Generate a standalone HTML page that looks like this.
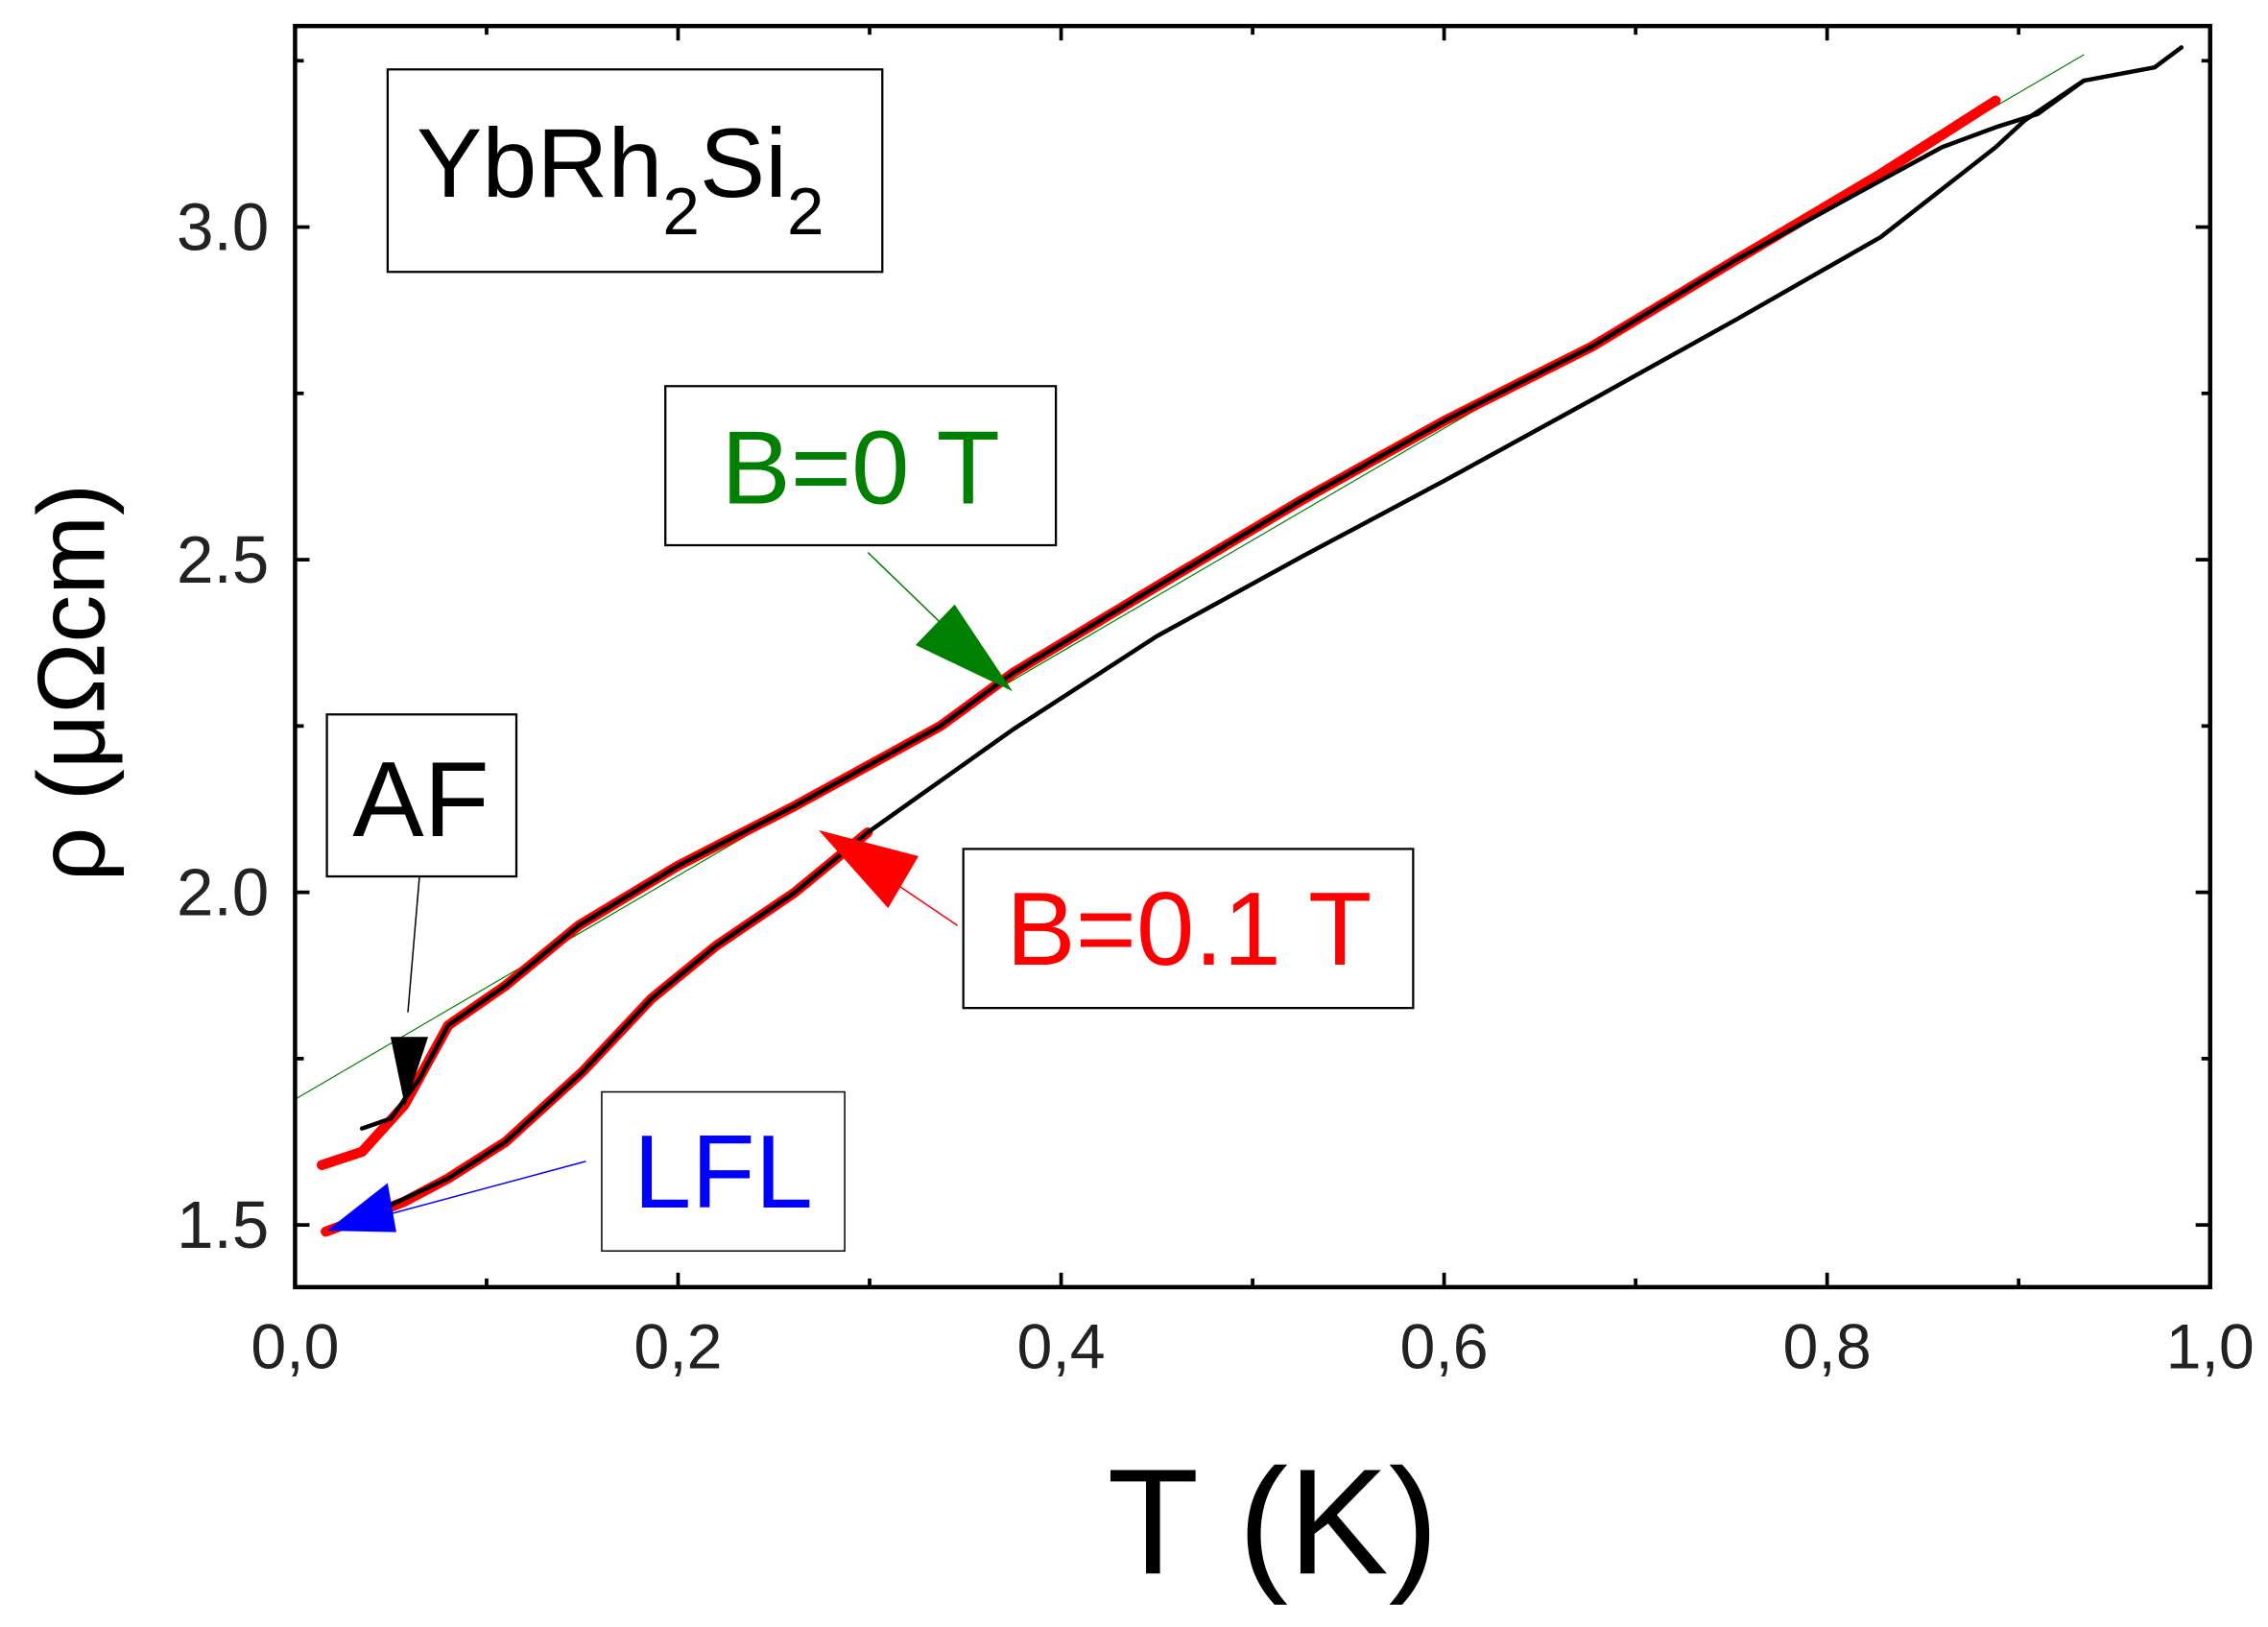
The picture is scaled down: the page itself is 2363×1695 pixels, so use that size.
<!DOCTYPE html>
<html><head><meta charset="utf-8"><style>
html,body{margin:0;padding:0;background:#fff;}
svg{display:block;}
text{font-family:"Liberation Sans",sans-serif;}
</style></head><body>
<svg id="chart" width="2363" height="1695" viewBox="0 0 1568 1125" preserveAspectRatio="none" xmlns="http://www.w3.org/2000/svg">
<rect width="1568" height="1125" fill="#fff"/>
<g id="marks"></g>
<g id="annot"></g>
<g id="axes"></g>
</svg>
<script>
const xTicks=[0,0.2,0.4,0.6,0.8,1.0];
const xTickLabels=["0,0","0,2","0,4","0,6","0,8","1,0"];
const yTicks=[1.5,2.0,2.5,3.0];
const yTickLabels=["1.5","2.0","2.5","3.0"];
const upperRedT=[0.014,0.035,0.057,0.08,0.11,0.148,0.2,0.261,0.337,0.375,0.45,0.526,0.601,0.677,0.752,0.828,0.888];
const upperRedR=[1.59,1.61,1.68,1.80,1.86,1.95,2.04,2.13,2.25,2.33,2.46,2.59,2.71,2.82,2.95,3.08,3.19];
const upperBlackT=[0.035,0.05,0.065,0.08,0.11,0.148,0.2,0.261,0.337,0.375,0.45,0.526,0.601,0.677,0.752,0.828,0.86,0.888,0.91,0.934,0.971,0.985];
const upperBlackR=[1.645,1.66,1.72,1.80,1.86,1.95,2.04,2.13,2.25,2.33,2.46,2.59,2.71,2.82,2.95,3.07,3.12,3.15,3.17,3.22,3.24,3.27];
const lowerRedT=[0.016,0.035,0.057,0.08,0.11,0.15,0.186,0.22,0.261,0.299];
const lowerRedR=[1.49,1.51,1.535,1.57,1.625,1.73,1.84,1.92,2.0,2.09];
const lowerBlackT=[0.05,0.08,0.11,0.15,0.186,0.22,0.261,0.299,0.375,0.45,0.526,0.601,0.677,0.752,0.828,0.888,0.903,0.934];
const lowerBlackR=[1.53,1.57,1.625,1.73,1.84,1.92,2.0,2.09,2.245,2.385,2.505,2.62,2.74,2.86,2.985,3.12,3.16,3.22];
const fitT=[0,0.934];
const fitR=[1.689,3.259];

const X0=204,X1=1528,Y0=18,Y1=890;
const sx=t=>X0+(X1-X0)*t;
const sy=r=>847-(r-1.5)*460;
const NS="http://www.w3.org/2000/svg";
function mk(tag,parent,attrs){const e=document.createElementNS(NS,tag);for(const k in attrs)e.setAttribute(k,attrs[k]);parent.appendChild(e);return e;}
const marks=document.getElementById('marks'),axes=document.getElementById('axes'),annot=document.getElementById('annot');
function line(T,R,color,w,name){
  const d=T.map((t,i)=>(i?'L':'M')+sx(t).toFixed(1)+','+sy(R[i]).toFixed(1)).join(' ');
  const p=mk('path',marks,{d:d,fill:'none',stroke:color,'stroke-width':w,'stroke-linejoin':'round','stroke-linecap':'round'});
  
  
}
line(fitT,fitR,'#008000',0.8,'fit-line');
line(upperRedT,upperRedR,'#ff0000',7,'upper-red-curve');
line(lowerRedT,lowerRedR,'#ff0000',7,'lower-red-curve');
line(upperBlackT,upperBlackR,'#000',3,'upper-black-curve');
line(lowerBlackT,lowerBlackR,'#000',3,'lower-black-curve');

const fr=mk('rect',axes,{x:X0,y:Y0,width:X1-X0,height:Y1-Y0,fill:'none',stroke:'#000','stroke-width':3});


for(let i=0;i<=10;i++){const t=i/10,len=(i%2==0)?10:6,x=sx(t);
  mk('line',axes,{x1:x,y1:Y1,x2:x,y2:Y1-len,stroke:'#000','stroke-width':2.5});
  mk('line',axes,{x1:x,y1:Y0,x2:x,y2:Y0+len,stroke:'#000','stroke-width':2.5});}
for(let r=1.5;r<=3.25;r+=0.25){const y=sy(r),len=(Math.abs(r*2-Math.round(r*2))<0.01)?10:6;
  mk('line',axes,{x1:X0,y1:y,x2:X0+len,y2:y,stroke:'#000','stroke-width':2.5});
  mk('line',axes,{x1:X1,y1:y,x2:X1-len,y2:y,stroke:'#000','stroke-width':2.5});}
xTicks.forEach((t,i)=>{const e=mk('text',axes,{x:sx(t),y:946,'text-anchor':'middle','font-size':44,fill:'#222'});e.textContent=xTickLabels[i];
  
  });
yTicks.forEach((r,i)=>{const e=mk('text',axes,{x:186,y:sy(r)+16,'text-anchor':'end','font-size':46,fill:'#222'});e.textContent=yTickLabels[i];
  
  });
</script>
<script>
const a=document.getElementById('annot');
a.innerHTML=`
<text x="880" y="1088" text-anchor="middle" font-size="104">T (K)</text>
<text transform="translate(72,472) rotate(-90)" text-anchor="middle" font-size="66">ρ (μΩcm)</text>
<g><rect x="268" y="48" width="342" height="140" fill="#fff" stroke="#000" stroke-width="1.5"/>
<text x="288" y="136" font-size="68">YbRh<tspan font-size="46" dy="26">2</tspan><tspan dy="-26">Si</tspan><tspan font-size="46" dy="26">2</tspan></text></g>
<g><rect x="460" y="267" width="270" height="110" fill="#fff" stroke="#000" stroke-width="1.5"/>
<text x="595" y="348" text-anchor="middle" font-size="72" fill="#008000">B=0 T</text></g>
<line x1="600" y1="382" x2="660" y2="440" stroke="#008000" stroke-width="1"/>
<polygon points="700,478 633,446 660,418" fill="#008000"/>
<g><rect x="666" y="587" width="311" height="110" fill="#fff" stroke="#000" stroke-width="1.5"/>
<text x="822" y="667" text-anchor="middle" font-size="72" fill="#ff0000">B=0.1 T</text></g>
<line x1="662" y1="640" x2="600" y2="598" stroke="#ff0000" stroke-width="1"/>
<polygon points="566,574 635,592 614,628" fill="#ff0000"/>
<g><rect x="226" y="494" width="131" height="112" fill="#fff" stroke="#000" stroke-width="1.5"/>
<text x="291" y="578" text-anchor="middle" font-size="74">AF</text></g>
<line x1="290" y1="606" x2="282" y2="700" stroke="#000" stroke-width="1"/>
<polygon points="270,717 296,717 280,765" fill="#000"/>
<g><rect x="416" y="755" width="168" height="110" fill="#fff" stroke="#000" stroke-width="1"/>
<text x="500" y="835" text-anchor="middle" font-size="72" fill="#0000ff">LFL</text></g>
<line x1="405" y1="803" x2="260" y2="842" stroke="#0000ff" stroke-width="1"/>
<polygon points="226,851 268,818 274,852" fill="#0000ff"/>`;
</script>
</body></html>
